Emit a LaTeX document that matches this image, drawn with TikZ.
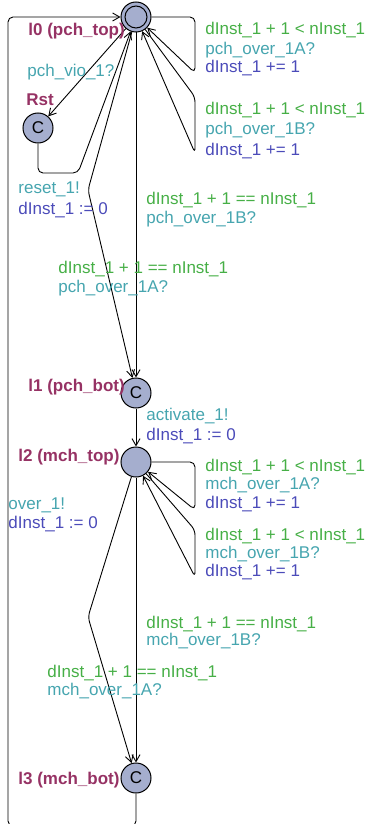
\documentclass[tikz,border=0pt]{standalone}
\usepackage{fontspec}
\setmainfont{Liberation Sans}
\usetikzlibrary{arrows.meta, positioning}
\definecolor{namecol}{RGB}{150, 50, 100}
\definecolor{guardcol}{RGB}{70, 175, 70}
\definecolor{synccol}{RGB}{70, 165, 175}
\definecolor{updatecol}{RGB}{75, 75, 185}
\definecolor{locfill}{RGB}{165, 174, 206}

\begin{document}
\begin{tikzpicture}[x=1pt, y=-1pt, line width=0.9pt, >={Straight Barb[length=7pt, width=8pt]}]
    % Styles
    \tikzstyle{location} = [circle, draw=black, fill=locfill, minimum size=30pt, inner sep=0pt, line width=1pt, font=\fontsize{17}{19}\selectfont]
    \tikzstyle{lbl} = [anchor=base west, inner sep=0pt, font=\fontsize{17}{19}\selectfont]
    \tikzstyle{namelbl} = [lbl, text=namecol, font=\bfseries\fontsize{17}{19}\selectfont]
    \tikzstyle{guardlbl} = [lbl, text=guardcol]
    \tikzstyle{synclbl} = [lbl, text=synccol]
    \tikzstyle{updatelbl} = [lbl, text=updatecol]
    \tikzstyle{trans} = [->, rounded corners=5pt]

    \useasboundingbox (0,0) rectangle (366,824);

    % Locations
    \node (l0) [location] at (136,17) {};
    \node (l0inner) [circle, draw=black, minimum size=22pt, inner sep=0pt, line width=1pt] at (l0) {};
    \node (Rst) [location] at (38,128) {C};
    \node (l1) [location, below=345pt of l0] {C};
    \node (l2) [location, below=38pt of l1] {};
    \node (l3) [location, below=285pt of l2] {C};

    % Nails
    \coordinate (rstnail) at (78,173);
    \coordinate (pchnail) at (88,190);
    \coordinate (pchloopA) at (195,73);
    \coordinate (pchloopB1) at (195,97);
    \coordinate (pchloopB2) at (195,153);
    \coordinate (mchnail) at (88,617);
    \coordinate (mchloopA) at (195,510);
    \coordinate (mchloopB1) at (195,530);
    \coordinate (mchloopB2) at (195,577);
    \coordinate (backnail) at (8,826);

    % Connections
    \draw[trans] (l0) -- (Rst);
    \draw[trans] (Rst) |- (rstnail) -- (l0);
    \draw[trans] (l0) -| (pchloopA) -- (l0);
    \draw[trans] (l0) -- (pchloopB1) -- (pchloopB2) -- (l0);
    \draw[trans] (l0) -- (l1);
    \draw[trans] (l0) -- (pchnail) -- (l1);
    \draw[trans] (l1) -- (l2);
    \draw[trans] (l2) -| (mchloopA) -- (l2);
    \draw[trans] (l2) -- (mchloopB1) -- (mchloopB2) -- (l2);
    \draw[trans] (l2) -- (l3);
    \draw[trans] (l2) -- (mchnail) -- (l3);
    \draw[trans] (l3) |- (backnail) |- (l0);

    % Names
    \node (l0name) [namelbl] at (28,36) {l0 (pch\_top)};
    \node (rstname) [namelbl] at (26,106) {Rst};
    \node (l1name) [namelbl] at (28,391) {l1 (pch\_bot)};
    \node (l2name) [namelbl] at (18,461) {l2 (mch\_top)};
    \node (l3name) [namelbl] at (18,784) {l3 (mch\_bot)};

    % Labels
    \node (viosync) [synclbl] at (27,77) {pch\_vio\_1?};
    \node (resetsync) [synclbl] at (18,193) {reset\_1!};
    \node (resetupd) [updatelbl] at (18,214) {dInst\_1 := 0};

    \node (pchAguard) [guardlbl] at (205,35) {dInst\_1 + 1 < nInst\_1};
    \node (pchAsync) [synclbl] at (205,55) {pch\_over\_1A?};
    \node (pchAupd) [updatelbl] at (205,73) {dInst\_1 += 1};
    \node (pchBguard) [guardlbl] at (205,115) {dInst\_1 + 1 < nInst\_1};
    \node (pchBsync) [synclbl] at (205,135) {pch\_over\_1B?};
    \node (pchBupd) [updatelbl] at (205,155) {dInst\_1 += 1};

    \node (pchBendguard) [guardlbl] at (146,204) {dInst\_1 + 1 == nInst\_1};
    \node (pchBendsync) [synclbl] at (146,223) {pch\_over\_1B?};
    \node (pchAendguard) [guardlbl] at (58,273) {dInst\_1 + 1 == nInst\_1};
    \node (pchAendsync) [synclbl] at (58,292) {pch\_over\_1A?};

    \node (actsync) [synclbl] at (146,420) {activate\_1!};
    \node (actupd) [updatelbl] at (146,440) {dInst\_1 := 0};

    \node (mchAguard) [guardlbl] at (205,471) {dInst\_1 + 1 < nInst\_1};
    \node (mchAsync) [synclbl] at (205,489) {mch\_over\_1A?};
    \node (mchAupd) [updatelbl] at (205,508) {dInst\_1 += 1};
    \node (mchBguard) [guardlbl] at (205,540) {dInst\_1 + 1 < nInst\_1};
    \node (mchBsync) [synclbl] at (205,558) {mch\_over\_1B?};
    \node (mchBupd) [updatelbl] at (205,576) {dInst\_1 += 1};

    \node (oversync) [synclbl] at (8,509) {over\_1!};
    \node (overupd) [updatelbl] at (8,528) {dInst\_1 := 0};

    \node (mchBendguard) [guardlbl] at (146,628) {dInst\_1 + 1 == nInst\_1};
    \node (mchBendsync) [synclbl] at (146,645) {mch\_over\_1B?};
    \node (mchAendguard) [guardlbl] at (47,677) {dInst\_1 + 1 == nInst\_1};
    \node (mchAendsync) [synclbl] at (47,695) {mch\_over\_1A?};
\end{tikzpicture}
\end{document}
